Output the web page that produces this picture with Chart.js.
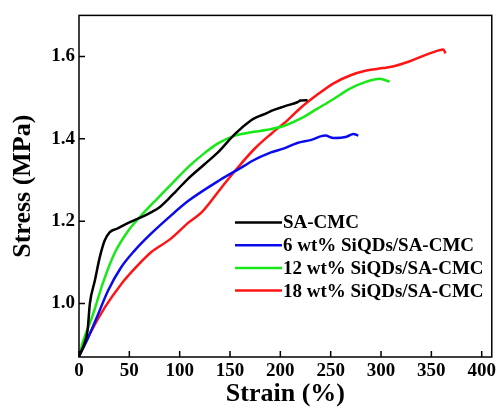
<!DOCTYPE html>
<html>
<head>
<meta charset="utf-8">
<script src="https://cdn.jsdelivr.net/npm/chart.js@4/dist/chart.umd.min.js"></script>
<style>
  html, body { margin: 0; padding: 0; background: #fff; }
  #wrap { width: 499px; height: 410px; }
</style>
</head>
<body>
<div id="wrap"><canvas id="stressChart" width="499" height="410"></canvas></div>
<script>
// stress-strain curves, strain in %, stress in MPa
const seriesNames = ['SA-CMC', '6 wt% SiQDs/SA-CMC', '12 wt% SiQDs/SA-CMC', '18 wt% SiQDs/SA-CMC'];
const seriesColors = ['#000000', '#0a0aee', '#18e818', '#ff1414'];

const strainPure = [0, 5, 8.5, 10.8, 15.7, 20.6, 25.5, 30.4, 37, 50, 61.5, 72, 80, 88, 96, 107, 125, 138, 155, 171, 176, 187, 191, 204, 216.9, 220, 227];
const stressPure = [0.872, 0.90, 0.934, 1.0, 1.055, 1.112, 1.153, 1.173, 1.181, 1.197, 1.209, 1.222, 1.234, 1.252, 1.272, 1.30, 1.339, 1.367, 1.412, 1.445, 1.452, 1.463, 1.468, 1.479, 1.489, 1.493, 1.494];

const strain6 = [0, 9.1, 19, 28.8, 41.9, 55, 71.3, 91, 109, 140, 164.5, 171, 190.7, 203.8, 216.9, 230, 244.6, 252.9, 265.8, 272.5, 277.4];
const stress6 = [0.872, 0.917, 0.974, 1.031, 1.088, 1.128, 1.169, 1.213, 1.25, 1.30, 1.335, 1.345, 1.367, 1.377, 1.390, 1.397, 1.408, 1.402, 1.405, 1.412, 1.408];

const strain12 = [0, 4.2, 14, 23.8, 35.3, 48.4, 61.5, 77.8, 94.2, 110, 125, 138, 155, 171, 187, 204, 220, 236.5, 252.9, 269.2, 285.6, 298.6, 308.5];
const stress12 = [0.872, 0.909, 0.974, 1.050, 1.122, 1.175, 1.213, 1.255, 1.296, 1.335, 1.366, 1.389, 1.408, 1.416, 1.422, 1.432, 1.449, 1.473, 1.497, 1.522, 1.539, 1.546, 1.539];

const strain18 = [0, 12.4, 25.5, 41.9, 55, 71.3, 91, 109, 122, 141.6, 158, 174.4, 190.7, 207, 220, 236.5, 252.9, 269.2, 285.6, 302, 311.8, 328, 344.4, 357.5, 361.9, 364];
const stress18 = [0.872, 0.934, 0.99, 1.047, 1.084, 1.124, 1.157, 1.197, 1.222, 1.282, 1.331, 1.376, 1.412, 1.445, 1.475, 1.507, 1.535, 1.554, 1.566, 1.572, 1.576, 1.588, 1.604, 1.615, 1.617, 1.608];

const xTicks = [0, 50, 100, 150, 200, 250, 300, 350, 400];
const yTicks = [1.0, 1.2, 1.4, 1.6];

const strains = [strainPure, strain6, strain12, strain18];
const stresses = [stressPure, stress6, stress12, stress18];

const serif = "'Liberation Serif', 'Times New Roman', serif";

function toPoints(xs, ys) {
    return xs.map((x, i) => ({ x: x, y: ys[i] }));
}

// box around the plot, inward tick marks, legend inside the plot
const framePlugin = {
    id: 'frame',
    afterDraw(chart) {
        const ctx = chart.ctx;
        const a = chart.chartArea;
        const xs = chart.scales.x, ys = chart.scales.y;
        ctx.save();
        ctx.strokeStyle = '#000';
        ctx.lineWidth = 1.5;
        ctx.strokeRect(a.left, a.top, a.right - a.left, a.bottom - a.top);

        ctx.beginPath();
        xTicks.forEach(v => {
            const px = xs.getPixelForValue(v);
            ctx.moveTo(px, a.bottom);
            ctx.lineTo(px, a.bottom - 6);
        });
        yTicks.forEach(v => {
            const py = ys.getPixelForValue(v);
            ctx.moveTo(a.left, py);
            ctx.lineTo(a.left + 6, py);
        });
        ctx.stroke();

        // legend
        ctx.font = 'bold 19px ' + serif;
        ctx.textBaseline = 'middle';
        ctx.textAlign = 'left';
        chart.data.datasets.forEach((ds, i) => {
            const y = 222.5 + i * 22.7;
            ctx.strokeStyle = ds.borderColor;
            ctx.lineWidth = 2.5;
            ctx.beginPath();
            ctx.moveTo(235, y);
            ctx.lineTo(282, y);
            ctx.stroke();
            ctx.fillStyle = '#000';
            ctx.fillText(ds.label, 283, y + 1);
        });
        ctx.restore();
    }
};

new Chart(document.getElementById('stressChart'), {
    type: 'line',
    data: {
        datasets: seriesNames.map((name, i) => ({
            label: name,
            data: toPoints(strains[i], stresses[i]),
            borderColor: seriesColors[i],
            backgroundColor: seriesColors[i],
            borderWidth: 2.5,
            pointRadius: 0,
            fill: false,
            cubicInterpolationMode: 'monotone'
        }))
    },
    options: {
        responsive: false,
        animation: false,
        layout: { padding: { left: 0, right: 2, top: 15, bottom: 0 } },
        plugins: {
            legend: { display: false },
            tooltip: { enabled: false }
        },
        scales: {
            x: {
                type: 'linear',
                min: 0,
                max: 410,
                afterFit(scale) { scale.height = 53; },
                afterBuildTicks(scale) { scale.ticks = xTicks.map(v => ({ value: v })); },
                grid: { display: false, drawTicks: false },
                border: { display: false },
                ticks: {
                    color: '#000',
                    padding: 3,
                    maxRotation: 0,
                    font: { family: serif, size: 19, weight: 'bold' }
                },
                title: {
                    display: true,
                    text: 'Strain (%)',
                    color: '#000',
                    padding: { top: 0, bottom: 0 },
                    font: { family: serif, size: 26, weight: 'bold' }
                }
            },
            y: {
                type: 'linear',
                min: 0.87,
                max: 1.70,
                afterFit(scale) { scale.width = 79; },
                afterBuildTicks(scale) { scale.ticks = yTicks.map(v => ({ value: v })); },
                grid: { display: false, drawTicks: false },
                border: { display: false },
                ticks: {
                    color: '#000',
                    padding: 4,
                    callback: v => v.toFixed(1),
                    font: { family: serif, size: 19, weight: 'bold' }
                },
                title: {
                    display: true,
                    text: 'Stress (MPa)',
                    color: '#000',
                    padding: { top: 8, bottom: 0 },
                    font: { family: serif, size: 26, weight: 'bold' }
                }
            }
        }
    },
    plugins: [framePlugin]
});
</script>
</body>
</html>
